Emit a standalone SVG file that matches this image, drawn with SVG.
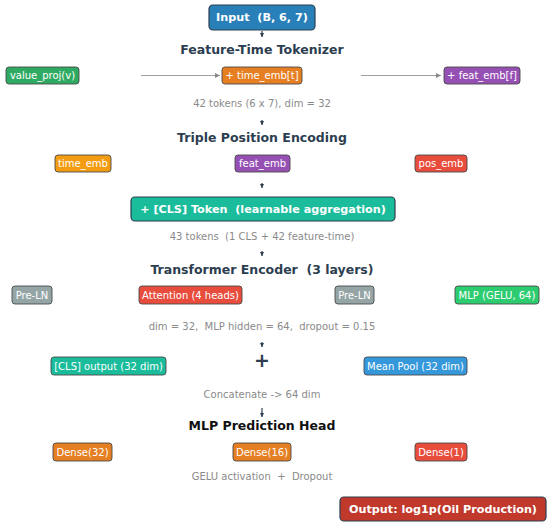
<svg xmlns="http://www.w3.org/2000/svg" width="550" height="525" viewBox="0 0 550 525">
<defs>
<style>
text{font-family:"DejaVu Sans","Liberation Sans",sans-serif;white-space:pre;}
.big{stroke:#2c3e50;stroke-width:1.2;}
.box{stroke:#4a4a4a;stroke-width:0.9;}
.bt{font-size:11.2px;font-weight:bold;fill:#fff;text-anchor:middle;dominant-baseline:central;}
.lt{font-size:10px;fill:#fff;text-anchor:middle;dominant-baseline:central;}
.ttl{font-size:12.5px;font-weight:bold;fill:#2c3e50;text-anchor:middle;dominant-baseline:central;}
.sub{font-size:10px;fill:#8a8a8a;text-anchor:middle;dominant-baseline:central;}
.dn{stroke:#2c3e50;stroke-width:1.2;fill:none;}
.hz{stroke:#a0a0a0;stroke-width:1.2;fill:none;}
</style>
<marker id="ah" viewBox="0 0 10 10" refX="10" refY="5" markerWidth="4" markerHeight="4" orient="auto" markerUnits="userSpaceOnUse"><path d="M0,0 L10,5 L0,10 z" fill="#2c3e50"/></marker>
<marker id="ahg" viewBox="0 0 10 10" refX="10" refY="5" markerWidth="5" markerHeight="5" orient="auto" markerUnits="userSpaceOnUse"><path d="M0,0 L10,5 L0,10 z" fill="#888"/></marker>
</defs>
<rect width="550" height="525" fill="#fff"/>

<g id="connectors">
<path class="dn" d="M262,31 V37" marker-end="url(#ah)"/>
<path class="hz" d="M141,75.5 H220" marker-end="url(#ahg)"/>
<path class="hz" d="M361,75.5 H441" marker-end="url(#ahg)"/>
<path class="dn" d="M262,120 V125" marker-end="url(#ah)"/>
<path class="dn" d="M262,183 V188" marker-end="url(#ah)"/>
<path class="dn" d="M262,251 V256" marker-end="url(#ah)"/>
<path class="dn" d="M262,342 V347" marker-end="url(#ah)"/>
<path class="dn" d="M262,408 V417" marker-end="url(#ah)"/>
</g>

<g id="input"><rect class="big" x="209" y="5" width="106" height="25" rx="4" fill="#2980b9"/><text class="bt" x="262" y="17.5">Input  (B, 6, 7)</text></g>
<g id="title-tokenizer"><text class="ttl" x="262" y="49">Feature-Time Tokenizer</text></g>

<g id="value-proj"><rect class="box" x="6" y="67" width="73" height="17" rx="3" fill="#2faa62"/><text class="lt" x="42.5" y="75.5">value_proj(v)</text></g>
<g id="time-emb-t"><rect class="box" x="222" y="67" width="80" height="17" rx="3" fill="#e67e22"/><text class="lt" x="262" y="75.5">+ time_emb[t]</text></g>
<g id="feat-emb-f"><rect class="box" x="444" y="67" width="76" height="17" rx="3" fill="#9650b4"/><text class="lt" x="482" y="75.5">+ feat_emb[f]</text></g>
<g id="sub-tokens"><text class="sub" x="262" y="103">42 tokens (6 x 7), dim = 32</text></g>

<g id="title-pos"><text class="ttl" x="262" y="137">Triple Position Encoding</text></g>
<g id="time-emb"><rect class="box" x="55" y="155" width="56" height="17" rx="3" fill="#f39c12"/><text class="lt" x="83" y="163.5">time_emb</text></g>
<g id="feat-emb"><rect class="box" x="235" y="155" width="55" height="17" rx="3" fill="#9650b4"/><text class="lt" x="262.5" y="163.5">feat_emb</text></g>
<g id="pos-emb"><rect class="box" x="415" y="155" width="52" height="17" rx="3" fill="#e74c3c"/><text class="lt" x="441" y="163.5">pos_emb</text></g>

<g id="cls-token"><rect class="big" x="131" y="197" width="264" height="24" rx="4" fill="#1abc9c"/><text class="bt" x="263" y="209">+ [CLS] Token  (learnable aggregation)</text></g>
<g id="sub-cls"><text class="sub" x="262" y="236">43 tokens  (1 CLS + 42 feature-time)</text></g>

<g id="title-encoder"><text class="ttl" x="262" y="269">Transformer Encoder  (3 layers)</text></g>
<g id="preln-1"><rect class="box" x="12" y="286" width="40" height="18" rx="3" fill="#95a5a6"/><text class="lt" x="32" y="295">Pre-LN</text></g>
<g id="attention"><rect class="box" x="139" y="286" width="103" height="18" rx="3" fill="#e74c3c"/><text class="lt" x="190.5" y="295">Attention (4 heads)</text></g>
<g id="preln-2"><rect class="box" x="335" y="286" width="39" height="18" rx="3" fill="#95a5a6"/><text class="lt" x="354.5" y="295">Pre-LN</text></g>
<g id="mlp-block"><rect class="box" x="455" y="286" width="84" height="18" rx="3" fill="#2ecc71"/><text class="lt" x="497" y="295">MLP (GELU, 64)</text></g>
<g id="sub-encoder"><text class="sub" x="262" y="326">dim = 32,  MLP hidden = 64,  dropout = 0.15</text></g>

<g id="plus"><text x="262" y="360" font-size="19" font-weight="bold" fill="#2c3e50" text-anchor="middle" dominant-baseline="central">+</text></g>
<g id="cls-output"><rect class="box" x="51" y="357" width="115" height="18" rx="3" fill="#1abc9c"/><text class="lt" x="108.5" y="366">[CLS] output (32 dim)</text></g>
<g id="mean-pool"><rect class="box" x="364" y="357" width="103" height="18" rx="3" fill="#3498db"/><text class="lt" x="415.5" y="366">Mean Pool (32 dim)</text></g>
<g id="sub-concat"><text class="sub" x="262" y="394">Concatenate -&gt; 64 dim</text></g>

<g id="title-head"><text class="ttl" x="262" y="425" style="fill:#111">MLP Prediction Head</text></g>
<g id="dense32"><rect class="box" x="53" y="443" width="59" height="18" rx="3" fill="#e67e22"/><text class="lt" x="82.5" y="452">Dense(32)</text></g>
<g id="dense16"><rect class="box" x="233" y="443" width="58" height="18" rx="3" fill="#e67e22"/><text class="lt" x="262" y="452">Dense(16)</text></g>
<g id="dense1"><rect class="box" x="415" y="443" width="52" height="18" rx="3" fill="#e74c3c"/><text class="lt" x="441" y="452">Dense(1)</text></g>
<g id="sub-head"><text class="sub" x="262" y="476">GELU activation  +  Dropout</text></g>

<g id="output"><rect class="big" x="340" y="497" width="206" height="24" rx="4" fill="#c0392b"/><text class="bt" x="443" y="509">Output: log1p(Oil Production)</text></g>
</svg>
